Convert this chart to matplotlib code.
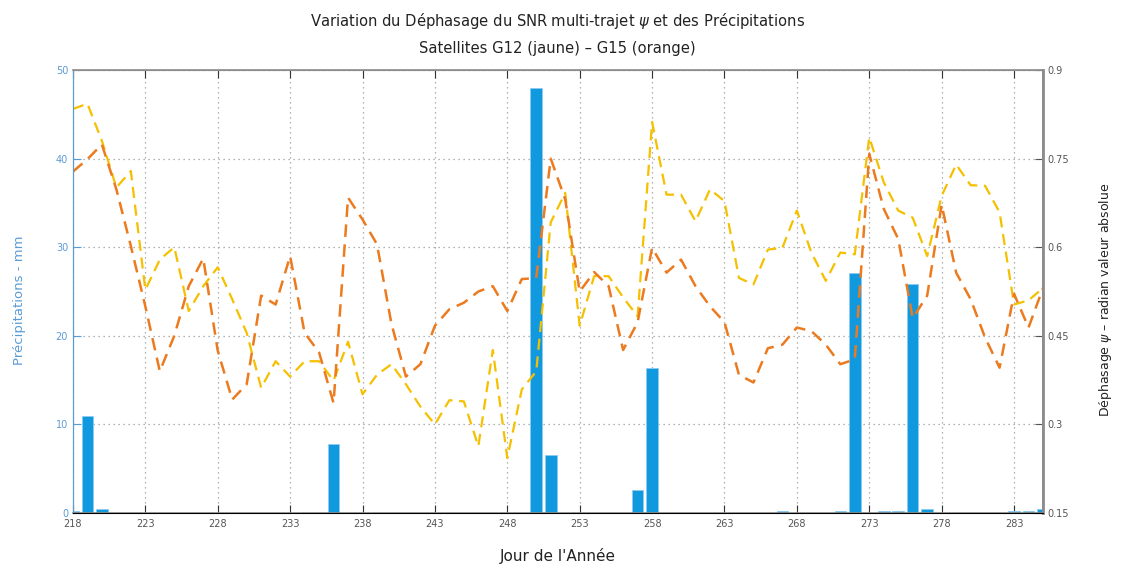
import numpy as np
import matplotlib
matplotlib.use('Agg')
import matplotlib.pyplot as plt

################################################
######## DATA ##################################
################################################
jours = list(range(218, 286))

# dephasage psi (radian), satellite G12 (jaune)
psi_g12 = [0.834, 0.843, 0.780, 0.701, 0.729, 0.528, 0.579, 0.600, 0.492, 0.534,
           0.566, 0.512, 0.455, 0.362, 0.407, 0.381, 0.407, 0.407, 0.374, 0.440,
           0.351, 0.384, 0.402, 0.368, 0.330, 0.300, 0.341, 0.339, 0.263, 0.426,
           0.243, 0.359, 0.390, 0.642, 0.692, 0.467, 0.551, 0.551, 0.515, 0.483,
           0.812, 0.689, 0.689, 0.644, 0.698, 0.678, 0.548, 0.537, 0.596, 0.599,
           0.662, 0.591, 0.543, 0.591, 0.588, 0.786, 0.710, 0.662, 0.650, 0.585,
           0.687, 0.740, 0.705, 0.704, 0.659, 0.503, 0.510, 0.531]

# dephasage psi (radian), satellite G15 (orange)
psi_g15 = [0.728, 0.749, 0.774, 0.698, 0.602, 0.500, 0.390, 0.450, 0.534, 0.581,
           0.425, 0.342, 0.368, 0.518, 0.503, 0.585, 0.455, 0.422, 0.336, 0.684,
           0.647, 0.605, 0.470, 0.381, 0.402, 0.467, 0.495, 0.506, 0.525, 0.534,
           0.492, 0.546, 0.548, 0.750, 0.681, 0.525, 0.558, 0.534, 0.426, 0.473,
           0.599, 0.557, 0.579, 0.534, 0.500, 0.473, 0.384, 0.371, 0.429, 0.435,
           0.464, 0.458, 0.435, 0.402, 0.410, 0.758, 0.665, 0.614, 0.480, 0.518,
           0.672, 0.557, 0.512, 0.447, 0.396, 0.521, 0.464, 0.531]

# precipitations (mm)
jours_pluie = [218, 219, 220, 236, 250, 251, 257, 258, 267, 271, 272, 274, 275,
               276, 277, 283, 284, 285]
pluie = [0.2, 11.0, 0.4, 7.8, 48.0, 6.5, 2.6, 16.4, 0.2, 0.2, 27.1, 0.2, 0.2,
         25.9, 0.4, 0.2, 0.2, 0.4]

x_ticks = list(range(218, 286, 5))
y_ticks_pluie = [0, 10, 20, 30, 40, 50]
y_ticks_psi = [0.15, 0.3, 0.45, 0.6, 0.75, 0.9]

FONT = ['DejaVu Sans']
BLUE_TXT = '#5b9bd5'
GREY = '#8c8c8c'

fig = plt.figure(figsize=(11.22, 5.66), dpi=100)
ax = fig.add_axes([0.065, 0.0936, 0.8646, 0.7827])
ax.bar(jours_pluie, pluie, width=0.8, color='#1199e0', edgecolor='#8fcaf0',
       linewidth=0.6, zorder=2)
ax.set_xlim(218, 285)
ax.set_ylim(0, 50)
ax.set_xticks(x_ticks)
ax.set_yticks(y_ticks_pluie)
ax.grid(True, linestyle=(0, (1, 3)), color='#9a9a9a', linewidth=0.9, zorder=0)
ax.set_axisbelow(True)
ax.tick_params(axis='x', direction='in', length=6, labelsize=7, colors='#333333',
               top=True, pad=4)
ax.tick_params(axis='y', direction='in', length=6, labelsize=7, colors=BLUE_TXT)
for lab in ax.get_xticklabels():
    lab.set_color('#555555')
ax.spines['left'].set_color(BLUE_TXT)
for s in ['top', 'bottom', 'right']:
    ax.spines[s].set_color(GREY)
    ax.spines[s].set_linewidth(1.2)

ax2 = ax.twinx()
ax2.plot(jours, psi_g12, linestyle=(0, (5, 3)), color='#f5c000', linewidth=1.6)
ax2.plot(jours, psi_g15, linestyle=(0, (5, 3)), color='#ec7a1e', linewidth=1.8)
ax2.set_ylim(0.15, 0.9)
ax2.set_yticks(y_ticks_psi)
ax2.set_yticklabels(['0.15', '0.3', '0.45', '0.6', '0.75', '0.9'])
ax2.tick_params(axis='y', direction='in', length=6, labelsize=7, colors='#555555')
ax2.spines['right'].set_color(GREY)
ax2.spines['right'].set_linewidth(2)
ax2.spines['left'].set_color(BLUE_TXT)
ax2.spines['top'].set_color(GREY)

fig.text(0.497, 0.963, "Variation du Déphasage du SNR multi-trajet $\\psi$ et des Précipitations",
         ha='center', va='center', fontsize=10.6, family=FONT, color='#222222')
fig.text(0.497, 0.915, "Satellites G12 (jaune) – G15 (orange)",
         ha='center', va='center', fontsize=10.6, family=FONT, color='#222222')
fig.text(0.497, 0.018, "Jour de l'Année", ha='center', va='center', fontsize=11,
         family=FONT, color='#222222')
fig.text(0.017, 0.47, "Précipitations - mm", ha='center', va='center', rotation=90,
         fontsize=9.5, family=FONT, color=BLUE_TXT)
fig.text(0.985, 0.47, "Déphasage $\\psi$ – radian valeur absolue", ha='center',
         va='center', rotation=90, fontsize=9, family=FONT, color='#222222')

fig.savefig('out.png', dpi=100)
